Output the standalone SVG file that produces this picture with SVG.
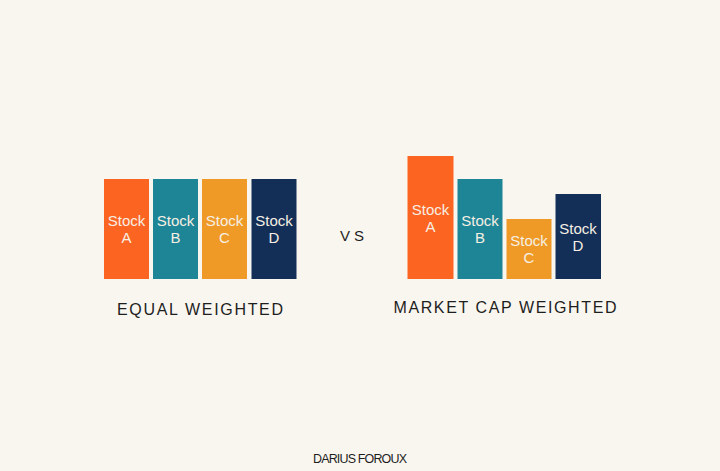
<svg xmlns="http://www.w3.org/2000/svg" width="720" height="471" viewBox="0 0 720 471">
<style>
.bg{fill:#f9f6ef}
.a{fill:#fc6421}
.b{fill:#1e8596}
.c{fill:#ef9a26}
.d{fill:#132f58}
.lbl{font-family:"Liberation Sans","Open Sans",sans-serif;font-size:15px;fill:#f6efe4;text-anchor:middle}
.hand{font-family:"Liberation Sans","DejaVu Sans",sans-serif;fill:#1e1e1e;font-weight:normal}
</style>
<rect class="bg" x="0" y="0" width="720" height="471"/>
<g id="equal-weighted">
  <g id="eq-stock-a"><rect class="a" x="104" y="179" width="45" height="100"/><text class="lbl" x="126.5" y="226">Stock<tspan x="126.5" dy="17">A</tspan></text></g>
  <g id="eq-stock-b"><rect class="b" x="153" y="179" width="45" height="100"/><text class="lbl" x="175.5" y="226">Stock<tspan x="175.5" dy="17">B</tspan></text></g>
  <g id="eq-stock-c"><rect class="c" x="202" y="179" width="45" height="100"/><text class="lbl" x="224.5" y="226">Stock<tspan x="224.5" dy="17">C</tspan></text></g>
  <g id="eq-stock-d"><rect class="d" x="251.5" y="179" width="45" height="100"/><text class="lbl" x="274" y="226">Stock<tspan x="274" dy="17">D</tspan></text></g>
  <text class="hand" x="117" y="315" font-size="16" textLength="166" lengthAdjust="spacing">EQUAL WEIGHTED</text>
</g>
<g id="vs"><text class="hand" x="340" y="241" font-size="15" textLength="24" lengthAdjust="spacing">VS</text></g>
<g id="market-cap-weighted">
  <g id="mc-stock-a"><rect class="a" x="407.5" y="156" width="46" height="123"/><text class="lbl" x="430.5" y="214.5">Stock<tspan x="430.5" dy="17">A</tspan></text></g>
  <g id="mc-stock-b"><rect class="b" x="457.5" y="179" width="45" height="100"/><text class="lbl" x="480" y="226">Stock<tspan x="480" dy="17">B</tspan></text></g>
  <g id="mc-stock-c"><rect class="c" x="506.5" y="219" width="45" height="60"/><text class="lbl" x="529" y="246">Stock<tspan x="529" dy="17">C</tspan></text></g>
  <g id="mc-stock-d"><rect class="d" x="555.5" y="194" width="45.5" height="85"/><text class="lbl" x="578" y="233.5">Stock<tspan x="578" dy="17">D</tspan></text></g>
  <text class="hand" x="393.5" y="313" font-size="16" textLength="223" lengthAdjust="spacing">MARKET CAP WEIGHTED</text>
</g>
<g id="credit"><text class="hand" x="313" y="463" font-size="12.5" textLength="94" lengthAdjust="spacing">DARIUS FOROUX</text></g>
</svg>
